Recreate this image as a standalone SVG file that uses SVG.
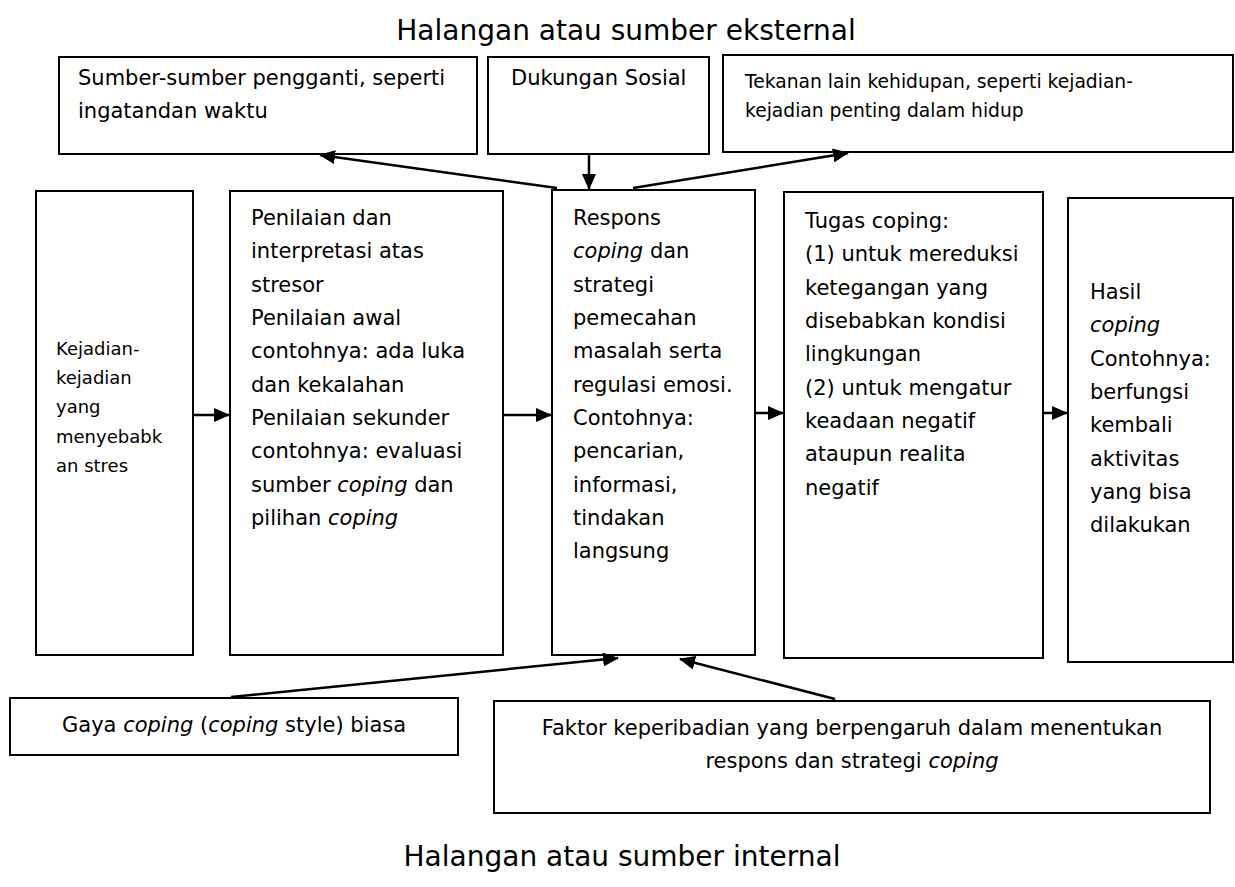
<svg xmlns="http://www.w3.org/2000/svg" width="1235" height="887" viewBox="0 0 1235 887">
<style>
.box{fill:#fff;stroke:#000;stroke-width:2}
.t{font-family:"DejaVu Sans","Verdana",sans-serif;font-size:21px;fill:#000}
.s{font-size:18px}
.c{font-size:18.7px}
.title{font-family:"DejaVu Sans","Verdana",sans-serif;font-size:28px;fill:#000}
.i{font-style:italic}
.ln{stroke:#000;stroke-width:2.5;fill:none;marker-end:url(#ah)}
</style>
<defs>
<marker id="ah" viewBox="0 0 16 14" refX="15" refY="7" markerWidth="16" markerHeight="14" markerUnits="userSpaceOnUse" orient="auto"><path d="M0,0 L16,7 L0,14 z" fill="#000"/></marker>
</defs>
<rect width="1235" height="887" fill="#fff"/>
<text class="title" x="626" y="40" text-anchor="middle">Halangan atau sumber eksternal</text>
<text class="title" x="622" y="866" text-anchor="middle">Halangan atau sumber internal</text>

<g id="sumber">
<rect class="box" x="59" y="57" width="418" height="97"/>
<text class="t" x="78" y="85">Sumber-sumber pengganti, seperti</text>
<text class="t" x="78" y="118">ingatandan waktu</text>
</g>
<g id="dukungan">
<rect class="box" x="488" y="57" width="221" height="97"/>
<text class="t" x="511" y="85">Dukungan Sosial</text>
</g>
<g id="tekanan">
<rect class="box" x="723" y="55" width="510" height="97"/>
<text class="t c" x="745" y="88">Tekanan lain kehidupan, seperti kejadian-</text>
<text class="t c" x="745" y="117">kejadian penting dalam hidup</text>
</g>

<g id="kejadian">
<rect class="box" x="36" y="191" width="157" height="464"/>
<text class="t s" x="56" y="355">Kejadian-</text>
<text class="t s" x="56" y="384">kejadian</text>
<text class="t s" x="56" y="413">yang</text>
<text class="t s" x="56" y="443">menyebabk</text>
<text class="t s" x="56" y="472">an stres</text>
</g>
<g id="penilaian">
<rect class="box" x="230" y="191" width="273" height="464"/>
<text class="t" x="251" y="225">Penilaian dan</text>
<text class="t" x="251" y="258">interpretasi atas</text>
<text class="t" x="251" y="292">stresor</text>
<text class="t" x="251" y="325">Penilaian awal</text>
<text class="t" x="251" y="358">contohnya: ada luka</text>
<text class="t" x="251" y="392">dan kekalahan</text>
<text class="t" x="251" y="425">Penilaian sekunder</text>
<text class="t" x="251" y="458">contohnya: evaluasi</text>
<text class="t" x="251" y="492">sumber <tspan class="i">coping</tspan> dan</text>
<text class="t" x="251" y="525">pilihan <tspan class="i">coping</tspan></text>
</g>
<g id="respons">
<rect class="box" x="552" y="190" width="203" height="465"/>
<text class="t" x="573" y="225">Respons</text>
<text class="t" x="573" y="258"><tspan class="i">coping</tspan> dan</text>
<text class="t" x="573" y="292">strategi</text>
<text class="t" x="573" y="325">pemecahan</text>
<text class="t" x="573" y="358">masalah serta</text>
<text class="t" x="573" y="392">regulasi emosi.</text>
<text class="t" x="573" y="425">Contohnya:</text>
<text class="t" x="573" y="458">pencarian,</text>
<text class="t" x="573" y="492">informasi,</text>
<text class="t" x="573" y="525">tindakan</text>
<text class="t" x="573" y="558">langsung</text>
</g>
<g id="tugas">
<rect class="box" x="784" y="192" width="259" height="466"/>
<text class="t" x="805" y="228">Tugas coping:</text>
<text class="t" x="805" y="261">(1) untuk mereduksi</text>
<text class="t" x="805" y="295">ketegangan yang</text>
<text class="t" x="805" y="328">disebabkan kondisi</text>
<text class="t" x="805" y="361">lingkungan</text>
<text class="t" x="805" y="395">(2) untuk mengatur</text>
<text class="t" x="805" y="428">keadaan negatif</text>
<text class="t" x="805" y="461">ataupun realita</text>
<text class="t" x="805" y="495">negatif</text>
</g>
<g id="hasil">
<rect class="box" x="1068" y="198" width="165" height="464"/>
<text class="t" x="1090" y="299">Hasil</text>
<text class="t i" x="1090" y="332">coping</text>
<text class="t" x="1090" y="366">Contohnya:</text>
<text class="t" x="1090" y="399">berfungsi</text>
<text class="t" x="1090" y="432">kembali</text>
<text class="t" x="1090" y="466">aktivitas</text>
<text class="t" x="1090" y="499">yang bisa</text>
<text class="t" x="1090" y="532">dilakukan</text>
</g>

<g id="gaya">
<rect class="box" x="10" y="698" width="448" height="57"/>
<text class="t" x="62" y="732">Gaya <tspan class="i">coping</tspan> (<tspan class="i">coping</tspan> style) biasa</text>
</g>
<g id="faktor">
<rect class="box" x="494" y="701" width="716" height="112"/>
<text class="t" x="852" y="735" text-anchor="middle">Faktor keperibadian yang berpengaruh dalam menentukan</text>
<text class="t" x="852" y="768" text-anchor="middle">respons dan strategi <tspan class="i">coping</tspan></text>
</g>

<g id="connectors">
<path class="ln" d="M557,188 L320,155"/>
<path class="ln" d="M589,154 L589,189"/>
<path class="ln" d="M633,188 L848,153"/>
<path class="ln" d="M193,415 L229,415"/>
<path class="ln" d="M503,415 L551,415"/>
<path class="ln" d="M755,413 L783,413"/>
<path class="ln" d="M1043,413 L1067,413"/>
<path class="ln" d="M231,697 L618,658"/>
<path class="ln" d="M835,699 L680,659"/>
</g>
</svg>
